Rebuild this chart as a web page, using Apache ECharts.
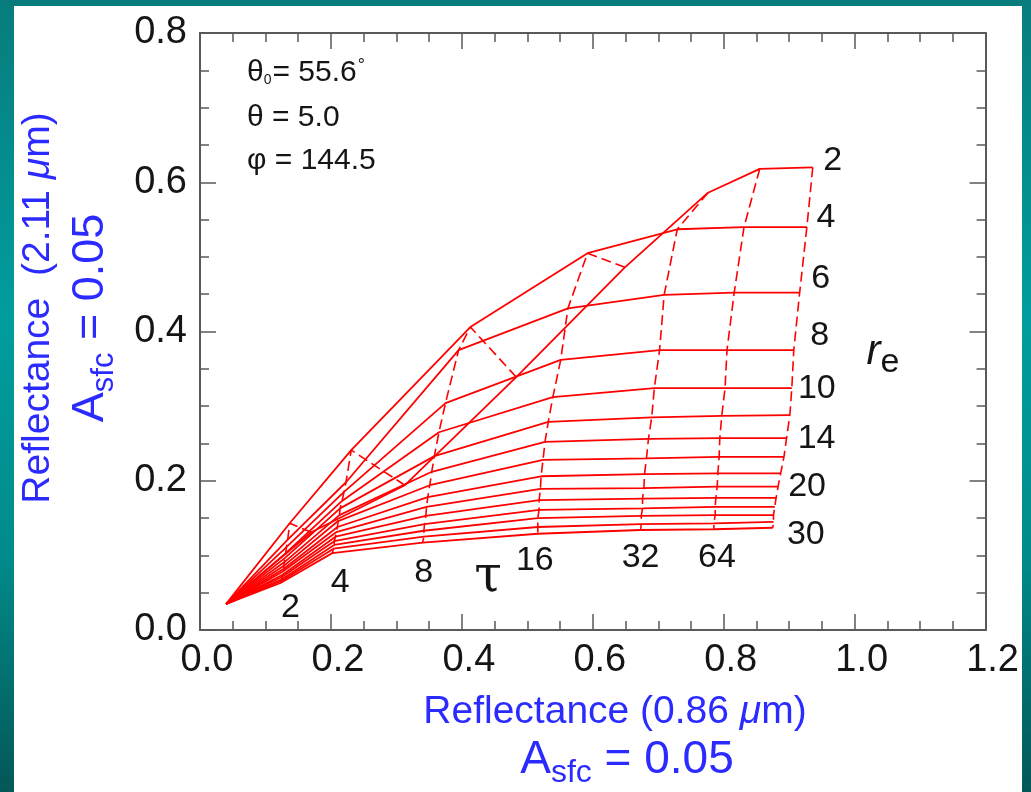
<!DOCTYPE html>
<html>
<head>
<meta charset="utf-8">
<script src="https://cdn.jsdelivr.net/npm/echarts@6/dist/echarts.min.js"></script>
<style>
  html, body { margin: 0; padding: 0; width: 1031px; height: 792px; overflow: hidden;
    background: linear-gradient(to bottom, #087c7d 0%, #019d9e 40%, #018b8b 70%, #045757 100%); }
  #chart { position: absolute; left: 14px; top: 6px; width: 1008px; height: 786px; background: #fff; }
</style>
</head>
<body>
<div id="chart"></div>
<script>
// effective radius (um), one solid line each
const reValues = [2, 4, 6, 8, 10, 12, 14, 16, 18, 20, 22, 24, 26, 28, 30];
// optical thickness, one dashed line each (0 = surface point)
const tauValues = [0, 2, 4, 8, 16, 32, 64, 128];

// reflectance at 0.86 um, rows = re, columns = tau
const r086 = [
  [0.040, 0.170, 0.313, 0.483, 0.649, 0.776, 0.855, 0.936],
  [0.040, 0.137, 0.231, 0.413, 0.592, 0.729, 0.831, 0.927],
  [0.040, 0.134, 0.223, 0.395, 0.562, 0.709, 0.816, 0.916],
  [0.040, 0.132, 0.220, 0.375, 0.551, 0.702, 0.805, 0.907],
  [0.040, 0.131, 0.217, 0.365, 0.539, 0.694, 0.802, 0.904],
  [0.040, 0.129, 0.214, 0.358, 0.532, 0.690, 0.797, 0.901],
  [0.040, 0.129, 0.213, 0.354, 0.527, 0.685, 0.794, 0.896],
  [0.040, 0.128, 0.211, 0.351, 0.524, 0.682, 0.793, 0.892],
  [0.040, 0.128, 0.210, 0.348, 0.521, 0.679, 0.791, 0.887],
  [0.040, 0.126, 0.208, 0.346, 0.520, 0.678, 0.790, 0.883],
  [0.040, 0.126, 0.207, 0.345, 0.518, 0.676, 0.788, 0.880],
  [0.040, 0.125, 0.205, 0.343, 0.518, 0.676, 0.787, 0.878],
  [0.040, 0.125, 0.205, 0.342, 0.516, 0.674, 0.787, 0.876],
  [0.040, 0.125, 0.204, 0.342, 0.516, 0.674, 0.785, 0.876],
  [0.040, 0.123, 0.202, 0.340, 0.516, 0.673, 0.785, 0.875]
];
// reflectance at 2.11 um, rows = re, columns = tau
const r211 = [
  [0.035, 0.131, 0.194, 0.339, 0.486, 0.586, 0.618, 0.620],
  [0.035, 0.143, 0.241, 0.406, 0.505, 0.537, 0.540, 0.540],
  [0.035, 0.121, 0.198, 0.375, 0.431, 0.449, 0.452, 0.452],
  [0.035, 0.111, 0.185, 0.304, 0.362, 0.375, 0.375, 0.375],
  [0.035, 0.103, 0.173, 0.265, 0.312, 0.324, 0.324, 0.324],
  [0.035, 0.096, 0.163, 0.233, 0.279, 0.285, 0.287, 0.288],
  [0.035, 0.091, 0.154, 0.212, 0.252, 0.256, 0.257, 0.257],
  [0.035, 0.086, 0.146, 0.194, 0.228, 0.230, 0.232, 0.232],
  [0.035, 0.082, 0.138, 0.178, 0.206, 0.209, 0.210, 0.210],
  [0.035, 0.078, 0.131, 0.165, 0.189, 0.190, 0.192, 0.192],
  [0.035, 0.074, 0.125, 0.153, 0.174, 0.176, 0.177, 0.177],
  [0.035, 0.071, 0.119, 0.142, 0.161, 0.163, 0.165, 0.165],
  [0.035, 0.068, 0.114, 0.133, 0.150, 0.153, 0.154, 0.154],
  [0.035, 0.066, 0.109, 0.125, 0.138, 0.142, 0.143, 0.145],
  [0.035, 0.063, 0.103, 0.117, 0.129, 0.134, 0.135, 0.137]
];

const reLabelled = [2, 4, 6, 8, 10, 14, 20, 30];
const tauLabelled = [2, 4, 8, 16, 32, 64];

// label nudges in pixels (style only)
const reLabelOffset = { 2: [20, -7], 4: [19, -9], 6: [21, -14], 8: [26, -15], 10: [25, 0], 14: [30, 0], 20: [29, 0], 30: [33, 7] };
const tauLabelOffset = { 2: [10, 25], 4: [8, 29], 8: [1, 30], 16: [-3, 27], 32: [0, 28], 64: [3, 28] };

const RED = '#ff0000';
const BLUE = '#2b2bff';
const INK = '#151515';
const FONT = '"Liberation Sans", Arial, sans-serif';
const last = tauValues.length - 1;

const series = [];
reValues.forEach((re, i) => {
  series.push({
    name: 're ' + re,
    type: 'line',
    data: tauValues.map((t, j) => [r086[i][j], r211[i][j]]),
    symbol: 'none',
    lineStyle: { color: RED, width: 1.8 },
    silent: true
  });
});
tauValues.forEach((t, j) => {
  if (j === 0) return;
  series.push({
    name: 'tau ' + t,
    type: 'line',
    data: reValues.map((re, i) => [r086[i][j], r211[i][j]]),
    symbol: 'none',
    lineStyle: { color: RED, width: 1.6, type: [10, 5] },
    silent: true
  });
});
const labelStyle = {
  show: true, position: 'inside', formatter: '{b}', fontSize: 34, color: INK, fontFamily: FONT,
  textBorderWidth: 0, opacity: 1
};
const labelItem = { color: 'transparent', opacity: 1 };
series.push({
  type: 'scatter', symbolSize: 1, itemStyle: labelItem, silent: true,
  label: labelStyle,
  data: reLabelled.map(re => {
    const i = reValues.indexOf(re);
    return { name: String(re), value: [r086[i][last], r211[i][last]], label: { offset: reLabelOffset[re] } };
  })
});
series.push({
  type: 'scatter', symbolSize: 1, itemStyle: labelItem, silent: true,
  label: labelStyle,
  data: tauLabelled.map(t => {
    const j = tauValues.indexOf(t);
    const i = reValues.length - 1;
    return { name: String(t), value: [r086[i][j], r211[i][j]], label: { offset: tauLabelOffset[t] } };
  })
});

const axisLineStyle = { color: '#5a5a5a', width: 2 };
function mkAxis(pos, max, showLabel) {
  return {
    type: 'value', position: pos, min: 0, max: max, interval: 0.2,
    axisLine: { show: true, onZero: false, lineStyle: axisLineStyle },
    axisTick: { show: true, inside: true, length: 16, lineStyle: { color: '#5a5a5a', width: 1.5 } },
    minorTick: { show: true, splitNumber: 4, length: 9, lineStyle: { color: '#5a5a5a', width: 1.5 } },
    splitLine: { show: false },
    axisLabel: {
      show: showLabel, fontSize: 38, color: INK, fontFamily: FONT, margin: 13,
      formatter: v => v.toFixed(1)
    }
  };
}
const xMain = mkAxis('bottom', 1.2, true);
xMain.axisLabel.padding = [0, 0, 0, 14];
xMain.axisLabel.margin = 12;
const yMain = mkAxis('left', 0.8, true);

const chart = echarts.init(document.getElementById('chart'));
chart.setOption({
  animation: false,
  grid: { left: 186, top: 27, width: 790, height: 597 },
  xAxis: [xMain, mkAxis('top', 1.2, false)],
  yAxis: [yMain, mkAxis('right', 0.8, false)],
  series: series,
  graphic: [
    { type: 'text', x: 233, y: 67, style: {
        text: '{m|θ}{s|0}{m|= 55.6}{d|°}', align: 'left', verticalAlign: 'middle', fill: INK,
        rich: {
          m: { font: '30px ' + FONT, fill: INK },
          s: { font: '14px ' + FONT, fill: INK, padding: [14, 1, 0, 0] },
          d: { font: '18px ' + FONT, fill: INK, padding: [0, 0, 14, 1] }
        } } },
    { type: 'text', x: 233, y: 112, style: { text: 'θ = 5.0', font: '30px ' + FONT, fill: INK, align: 'left', verticalAlign: 'middle' } },
    { type: 'text', x: 233, y: 155, style: { text: 'φ = 144.5', font: '30px ' + FONT, fill: INK, align: 'left', verticalAlign: 'middle' } },
    { type: 'text', x: 474, y: 572, style: { text: 'τ', font: '50px "DejaVu Serif", serif', fill: INK, align: 'center', verticalAlign: 'middle' } },
    { type: 'text', x: 869, y: 346, style: {
        text: '{r|r}{e|e}', align: 'center', verticalAlign: 'middle',
        rich: {
          r: { font: 'italic 42px ' + FONT, fill: INK },
          e: { font: '34px ' + FONT, fill: INK, padding: [22, 0, 0, 0] }
        } } },
    { type: 'text', x: 601, y: 706, style: {
        text: '{a|Reflectance (0.86 }{u|μ}{a|m)}', align: 'center', verticalAlign: 'middle',
        rich: {
          a: { font: '39px ' + FONT, fill: BLUE },
          u: { font: 'italic 39px ' + FONT, fill: BLUE }
        } } },
    { type: 'text', x: 613, y: 754, style: {
        text: '{a|A}{s|sfc}{a| = 0.05}', align: 'center', verticalAlign: 'middle',
        rich: {
          a: { font: '46px ' + FONT, fill: BLUE },
          s: { font: '32px ' + FONT, fill: BLUE, padding: [26, 0, 0, 0] }
        } } },
    { type: 'text', x: 24, y: 302, rotation: Math.PI / 2, style: {
        text: '{a|Reflectance  (2.11 }{u|μ}{a|m)}', align: 'center', verticalAlign: 'middle',
        rich: {
          a: { font: '39px ' + FONT, fill: BLUE },
          u: { font: 'italic 39px ' + FONT, fill: BLUE }
        } } },
    { type: 'text', x: 77, y: 312, rotation: Math.PI / 2, style: {
        text: '{a|A}{s|sfc}{a| = 0.05}', align: 'center', verticalAlign: 'middle',
        rich: {
          a: { font: '45px ' + FONT, fill: BLUE },
          s: { font: '31px ' + FONT, fill: BLUE, padding: [26, 0, 0, 0] }
        } } }
  ]
});
</script>
</body>
</html>
